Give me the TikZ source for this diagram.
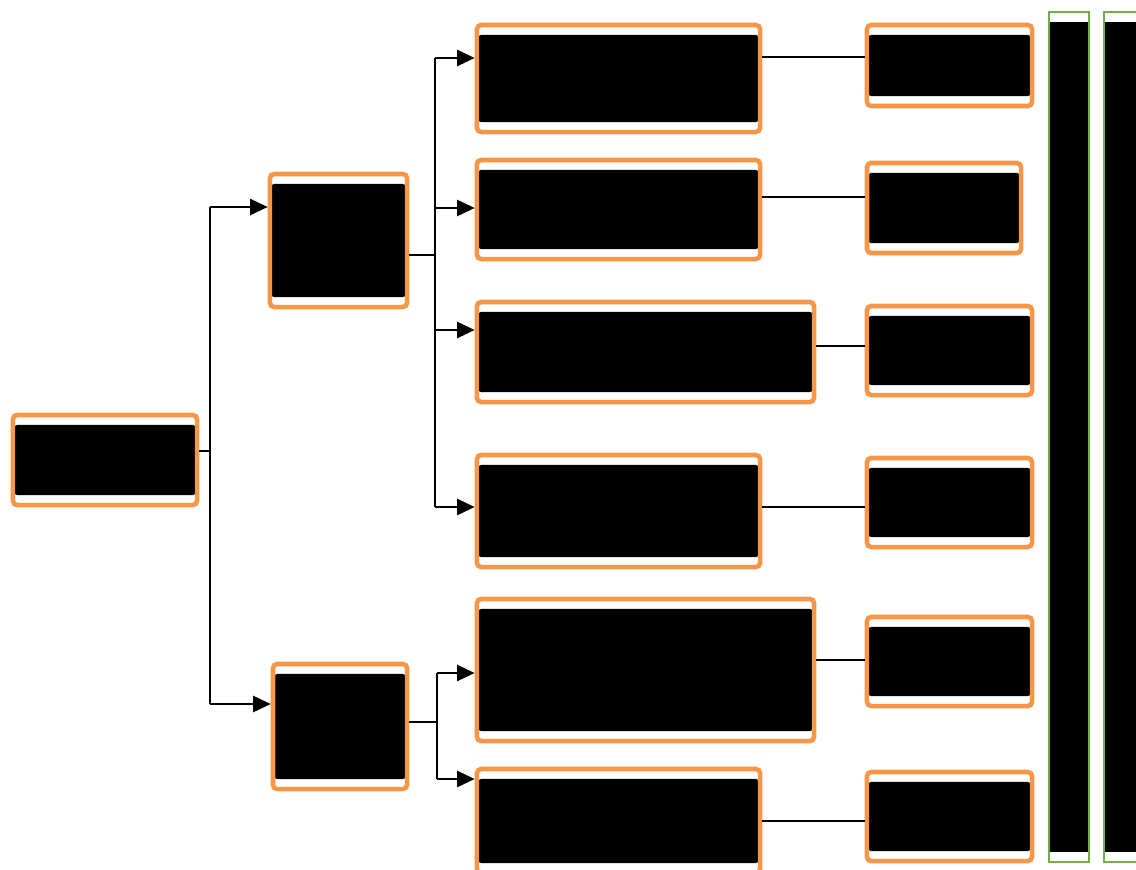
\documentclass[tikz,border=0pt]{standalone}
\usepackage{tikz}
\usetikzlibrary{positioning,arrows.meta,calc}
\definecolor{frameorange}{RGB}{247,150,70}
\definecolor{framegreen}{RGB}{112,173,71}

\begin{document}
\begin{tikzpicture}[
  x=0.01cm, y=-0.01cm,
  blockbox/.style={rectangle, draw=frameorange, line width=1.3pt, rounded corners=1.2pt,
                   fill=white, inner sep=0pt,
                   path picture={\fill[black] ($(path picture bounding box.north west)+(0,10)$)
                                 rectangle ($(path picture bounding box.south east)+(0,-10)$);}},
  sidebar/.style={rectangle, draw=framegreen, line width=0.6pt, fill=white, inner sep=0pt,
                  path picture={\fill[black] ($(path picture bounding box.north west)+(0,10)$)
                                rectangle ($(path picture bounding box.south east)+(0,-10)$);}},
  link/.style={draw=black, line width=0.6pt},
  arr/.style={link, -{Triangle[length=5pt,width=4.6pt]}}
]
  \useasboundingbox (0,0) rectangle (1136,869);

  % main blocks
  \node[blockbox, minimum width=1.84cm, minimum height=0.90cm] (root) at (105,460) {};
  \node[blockbox, minimum width=1.37cm, minimum height=1.33cm] (upper) at (338.5,240.5) {};
  \node[blockbox, minimum width=1.34cm, minimum height=1.25cm] (lower) at (340,726.5) {};

  % second level
  \node[blockbox, minimum width=2.83cm, minimum height=1.07cm] (s1) at (618.5,78.5) {};
  \node[blockbox, minimum width=2.83cm, minimum height=0.99cm] (s2) at (618.5,209.5) {};
  \node[blockbox, minimum width=3.37cm, minimum height=1.00cm] (s3) at (645.5,352) {};
  \node[blockbox, minimum width=2.83cm, minimum height=1.12cm] (s4) at (618.5,511) {};
  \node[blockbox, minimum width=3.37cm, minimum height=1.42cm] (s5) at (645.5,670) {};
  \node[blockbox, minimum width=2.83cm, minimum height=1.04cm] (s6) at (618.5,821) {};

  % third level
  \node[blockbox, minimum width=1.65cm, minimum height=0.81cm] (t1) at (949.5,65.5) {};
  \node[blockbox, minimum width=1.54cm, minimum height=0.90cm] (t2) at (944,208) {};
  \node[blockbox, minimum width=1.65cm, minimum height=0.89cm] (t3) at (949.5,350.5) {};
  \node[blockbox, minimum width=1.65cm, minimum height=0.89cm] (t4) at (949.5,502.5) {};
  \node[blockbox, minimum width=1.65cm, minimum height=0.89cm] (t5) at (949.5,661.5) {};
  \node[blockbox, minimum width=1.65cm, minimum height=0.89cm] (t6) at (949.5,816.5) {};

  % side bars
  \node[sidebar, minimum width=0.40cm, minimum height=8.50cm] (bar1) at (1069,437) {};
  \node[sidebar, minimum width=0.40cm, minimum height=8.50cm] (bar2) at (1124,437) {};

  % junctions
  \coordinate (j0) at (210,451);
  \coordinate (j0a) at (210,207);
  \coordinate (j0b) at (210,704);
  \coordinate (j1) at (435,255);
  \coordinate (j1a) at (435,58);
  \coordinate (j1b) at (435,208);
  \coordinate (j1c) at (435,330);
  \coordinate (j1d) at (435,507);
  \coordinate (j2) at (437,722);
  \coordinate (j2a) at (437,673);
  \coordinate (j2b) at (437,779);

  % heights of the side links
  \coordinate (h1) at (810,57);
  \coordinate (h2) at (810,197);
  \coordinate (h3) at (840,346);
  \coordinate (h4) at (810,507);
  \coordinate (h5) at (840,660);
  \coordinate (h6) at (810,821);

  % root to first level
  \draw[link] (root.east |- j0) -- (j0);
  \draw[link] (j0a) -- (j0b);
  \draw[arr] (j0a) -- (j0a -| upper.west);
  \draw[arr] (j0b) -- (j0b -| lower.west);

  % upper block to second level
  \draw[link] (upper.east |- j1) -- (j1);
  \draw[link] (j1a) -- (j1d);
  \draw[arr] (j1a) -- (j1a -| s1.west);
  \draw[arr] (j1b) -- (j1b -| s2.west);
  \draw[arr] (j1c) -- (j1c -| s3.west);
  \draw[arr] (j1d) -- (j1d -| s4.west);

  % lower block to second level
  \draw[link] (lower.east |- j2) -- (j2);
  \draw[link] (j2a) -- (j2b);
  \draw[arr] (j2a) -- (j2a -| s5.west);
  \draw[arr] (j2b) -- (j2b -| s6.west);

  % second to third level
  \draw[link] (s1.east |- h1) -- (t1.west |- h1);
  \draw[link] (s2.east |- h2) -- (t2.west |- h2);
  \draw[link] (s3.east |- h3) -- (t3.west |- h3);
  \draw[link] (s4.east |- h4) -- (t4.west |- h4);
  \draw[link] (s5.east |- h5) -- (t5.west |- h5);
  \draw[link] (s6.east |- h6) -- (t6.west |- h6);
\end{tikzpicture}
\end{document}
